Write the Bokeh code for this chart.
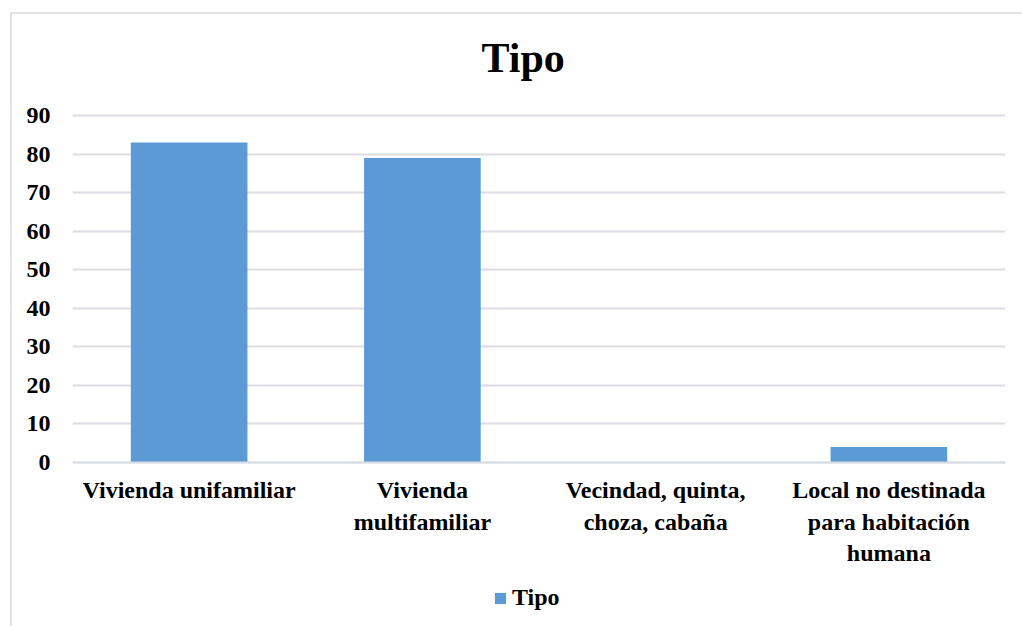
from bokeh.plotting import figure
from bokeh.models import ColumnDataSource, Legend, LegendItem, FixedTicker
from bokeh.embed import file_html
from bokeh.resources import INLINE

categories = ["Vivienda unifamiliar", "Vivienda\nmultifamiliar",
              "Vecindad, quinta,\nchoza, cabaña",
              "Local no destinada\npara habitación\nhumana"]
values = [83, 79, 0, 4]
y_ticks = [0, 10, 20, 30, 40, 50, 60, 70, 80, 90]
series_name = "Tipo"

FONT = "Liberation Serif"
GRID = "#dadde3"
BAR = "#5b9ad4"

src = ColumnDataSource(dict(cat=categories, val=values))

# frame extends above the 90 line and below the 0 line so that the
# category labels and the legend sit inside it
p = figure(x_range=categories, y_range=(-42.28, 94.15),
           frame_width=933, frame_height=526,
           output_backend="svg", toolbar_location=None,
           min_border_left=60, min_border_right=17,
           min_border_top=84, min_border_bottom=2)
p.styles = {"margin-left": "10px", "margin-top": "12px",
            "border-left": "2px solid #dde1e8", "border-top": "2px solid #dde1e8"}

r = p.vbar(x="cat", top="val", width=0.5, source=src, fill_color=BAR, line_color=None)

p.title.text = series_name
p.title.align = "left"
p.title.offset = 409
p.title.text_font = FONT
p.title.text_font_size = "42px"
p.title.text_font_style = "bold"
p.title.text_color = "#000000"
p.title.standoff = 37

p.outline_line_color = None
p.background_fill_color = "white"
p.border_fill_color = "white"

p.xgrid.grid_line_color = None
p.ygrid.grid_line_color = GRID
p.ygrid.grid_line_width = 2
p.yaxis.ticker = FixedTicker(ticks=y_ticks)

for ax in (p.xaxis, p.yaxis):
    ax.major_label_text_font = FONT
    ax.major_label_text_font_style = "bold"
    ax.major_label_text_font_size = "24px"
    ax.major_label_text_color = "#000000"
    ax.major_tick_line_color = None
    ax.minor_tick_line_color = None

p.yaxis.axis_line_color = None
p.yaxis.major_label_standoff = 16
p.xaxis.fixed_location = 0
p.xaxis.axis_line_color = GRID
p.xaxis.axis_line_width = 2
p.xaxis.major_label_standoff = 9

legend = Legend(items=[LegendItem(label=series_name, renderers=[r])],
                location=(421, 14), orientation="horizontal",
                glyph_width=14, glyph_height=14,
                label_text_font=FONT, label_text_font_style="bold",
                label_text_font_size="24px", label_text_color="#000000",
                border_line_color=None, background_fill_alpha=0,
                padding=0, margin=0, label_standoff=5)
p.add_layout(legend, "center")

open("out.html", "w").write(file_html(p, INLINE))
